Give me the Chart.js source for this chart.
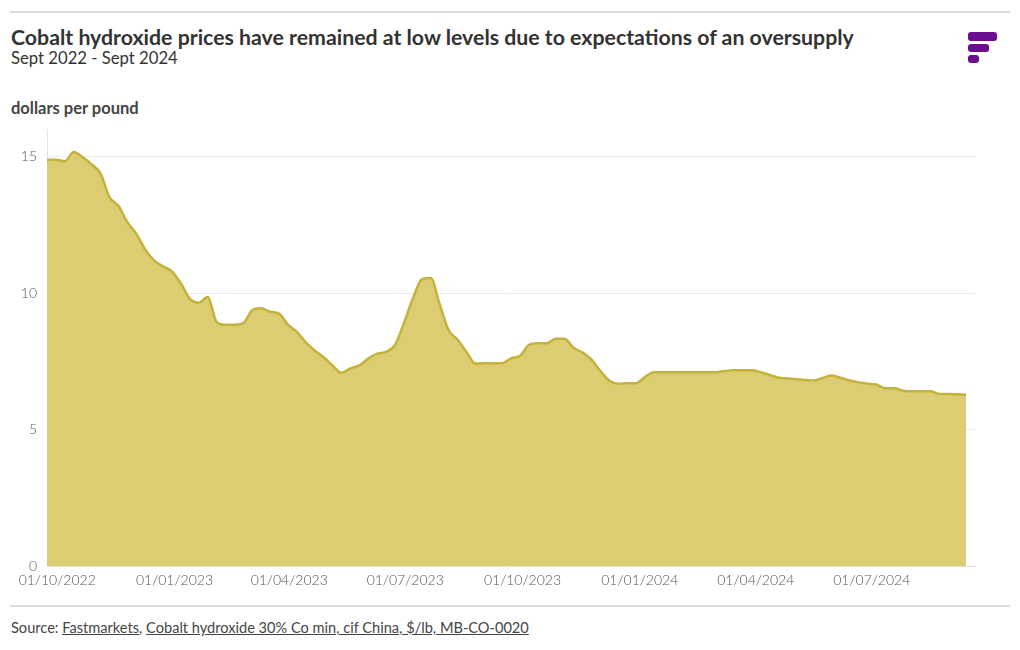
<!DOCTYPE html>
<html>
<head>
<meta charset="utf-8">
<script src="https://cdn.jsdelivr.net/npm/chart.js@4.4.1/dist/chart.umd.min.js"></script>
<style>
  body { margin: 0; background: #fff; font-family: Lato, "Open Sans", sans-serif; color: #333; }
  #page { position: relative; width: 1020px; height: 650px; overflow: hidden; }
  .rule { position: absolute; left: 10px; width: 1000px; height: 2px; background: #ddd; }
  #title { position: absolute; left: 11px; top: 24px; font-size: 21.3px; font-weight: 700; color: #333; white-space: nowrap; }
  #subtitle { position: absolute; left: 11px; top: 48px; font-size: 16.7px; color: #333; }
  #unit { position: absolute; left: 11px; top: 98px; font-size: 16.5px; font-weight: 700; color: #444; }
  #source { position: absolute; left: 11px; top: 619px; font-size: 14.6px; color: #444; }
  #source span { text-decoration: underline; }
  .logo { position: absolute; background: #6b0f8f; border-radius: 3px; }
  #wrap { position: absolute; left: 0; top: 111px; width: 980px; height: 489px; }
</style>
</head>
<body>
<div id="page">
  <div class="rule" style="top:11px"></div>
  <div id="title">Cobalt hydroxide prices have remained at low levels due to expectations of an oversupply</div>
  <div id="subtitle">Sept 2022 - Sept 2024</div>
  <div class="logo" style="left:968px;top:32px;width:29px;height:9px"></div>
  <div class="logo" style="left:968px;top:44px;width:21px;height:8px"></div>
  <div class="logo" style="left:968px;top:55px;width:11px;height:8px"></div>
  <div id="unit">dollars per pound</div>
  <div id="wrap"><canvas id="chart"></canvas></div>
  <div class="rule" style="top:605px"></div>
  <div id="source">Source: <span>Fastmarkets</span>, <span>Cobalt hydroxide 30% Co min, cif China, $/lb, MB-CO-0020</span></div>
</div>
<script>
// weekly assessment dates (Fridays)
var dates = [
  '2022-09-23','2022-09-30','2022-10-07','2022-10-14','2022-10-21','2022-10-28','2022-11-04','2022-11-11','2022-11-18','2022-11-25',
  '2022-12-02','2022-12-09','2022-12-16','2022-12-23','2022-12-30','2023-01-06','2023-01-13','2023-01-20','2023-01-27','2023-02-03',
  '2023-02-10','2023-02-17','2023-02-24','2023-03-03','2023-03-10','2023-03-17','2023-03-24','2023-03-31','2023-04-07','2023-04-14',
  '2023-04-21','2023-04-28','2023-05-05','2023-05-12','2023-05-19','2023-05-26','2023-06-02','2023-06-09','2023-06-16','2023-06-23',
  '2023-06-30','2023-07-07','2023-07-14','2023-07-21','2023-07-28','2023-08-04','2023-08-11','2023-08-18','2023-08-25','2023-09-01',
  '2023-09-08','2023-09-15','2023-09-22','2023-09-29','2023-10-06','2023-10-13','2023-10-20','2023-10-27','2023-11-03','2023-11-10',
  '2023-11-17','2023-11-24','2023-12-01','2023-12-08','2023-12-15','2023-12-22','2023-12-29','2024-01-05','2024-01-12','2024-01-19',
  '2024-01-26','2024-02-02','2024-02-09','2024-02-16','2024-02-23','2024-03-01','2024-03-08','2024-03-15','2024-03-22','2024-03-29',
  '2024-04-05','2024-04-12','2024-04-19','2024-04-26','2024-05-03','2024-05-10','2024-05-17','2024-05-24','2024-05-31','2024-06-07',
  '2024-06-14','2024-06-21','2024-06-28','2024-07-05','2024-07-12','2024-07-19','2024-07-26','2024-08-02','2024-08-09','2024-08-16',
  '2024-08-23','2024-08-30','2024-09-06','2024-09-13'
];

// cobalt hydroxide, $/lb
var prices = [
  14.88, 14.89, 14.83, 15.17, 14.98, 14.72, 14.38, 13.52, 13.2, 12.6,
  12.18, 11.6, 11.2, 10.98, 10.8, 10.36, 9.8, 9.65, 9.86, 8.95,
  8.84, 8.84, 8.9, 9.37, 9.45, 9.32, 9.25, 8.85, 8.58, 8.2,
  7.9, 7.65, 7.35, 7.08, 7.24, 7.35, 7.6, 7.78, 7.85, 8.1,
  8.9, 9.8, 10.5, 10.55, 9.6, 8.65, 8.3, 7.85, 7.42, 7.43,
  7.43, 7.43, 7.61, 7.7, 8.1, 8.16, 8.16, 8.33, 8.33, 8.0,
  7.83, 7.57, 7.15, 6.8, 6.68, 6.7, 6.7, 6.92, 7.1, 7.1,
  7.1, 7.1, 7.1, 7.1, 7.1, 7.1, 7.15, 7.17, 7.17, 7.17,
  7.1, 7.0, 6.9, 6.87, 6.84, 6.82, 6.8, 6.9, 6.98, 6.89,
  6.8, 6.73, 6.68, 6.64, 6.51, 6.51, 6.42, 6.40, 6.40, 6.40,
  6.30, 6.30, 6.29, 6.28
];

var tickDates = ['2022-10-01','2023-01-01','2023-04-01','2023-07-01','2023-10-01','2024-01-01','2024-04-01','2024-07-01'];
var yTicks = [0, 5, 10, 15];
var xMin = '2022-09-23', xMax = '2024-09-20';

function pad(n) { return n < 10 ? '0' + n : '' + n; }
function fmt(v) {
  var d = new Date(v);
  return pad(d.getUTCDate()) + '/' + pad(d.getUTCMonth() + 1) + '/' + d.getUTCFullYear();
}

var points = dates.map(function (d, i) { return { x: Date.parse(d), y: prices[i] }; });

new Chart(document.getElementById('chart'), {
  type: 'line',
  data: {
    datasets: [{
      data: points,
      borderColor: '#c4b23a',
      backgroundColor: '#dccc72',
      borderWidth: 2.5,
      fill: 'origin',
      pointRadius: 0,
      cubicInterpolationMode: 'monotone'
    }]
  },
  options: {
    responsive: true,
    maintainAspectRatio: false,
    animation: false,
    layout: { padding: { top: 2, right: 5 } },
    plugins: { legend: { display: false }, tooltip: { enabled: false } },
    scales: {
      x: {
        type: 'linear',
        min: Date.parse(xMin),
        max: Date.parse(xMax),
        afterBuildTicks: function (scale) {
          scale.ticks = tickDates.map(function (d) { return { value: Date.parse(d) }; });
        },
        afterFit: function (scale) { scale.height = 34; },
        grid: { display: false, drawTicks: false },
        border: { display: true, color: '#e4e4e4', width: 1 },
        ticks: {
          padding: 6,
          maxRotation: 0,
          autoSkip: false,
          color: '#555',
          font: { family: 'Lato', size: 14, weight: '300' },
          callback: function (v) { return fmt(v); }
        }
      },
      y: {
        min: 0,
        max: 16,
        afterBuildTicks: function (scale) {
          scale.ticks = yTicks.map(function (v) { return { value: v }; });
        },
        afterFit: function (scale) { scale.width = 47; },
        grid: { color: '#ececec', drawTicks: false },
        border: { display: true, color: '#e4e4e4', width: 1 },
        ticks: {
          padding: 10,
          color: '#555',
          font: { family: 'Lato', size: 14, weight: '300' }
        }
      }
    }
  }
});
</script>
</body>
</html>
